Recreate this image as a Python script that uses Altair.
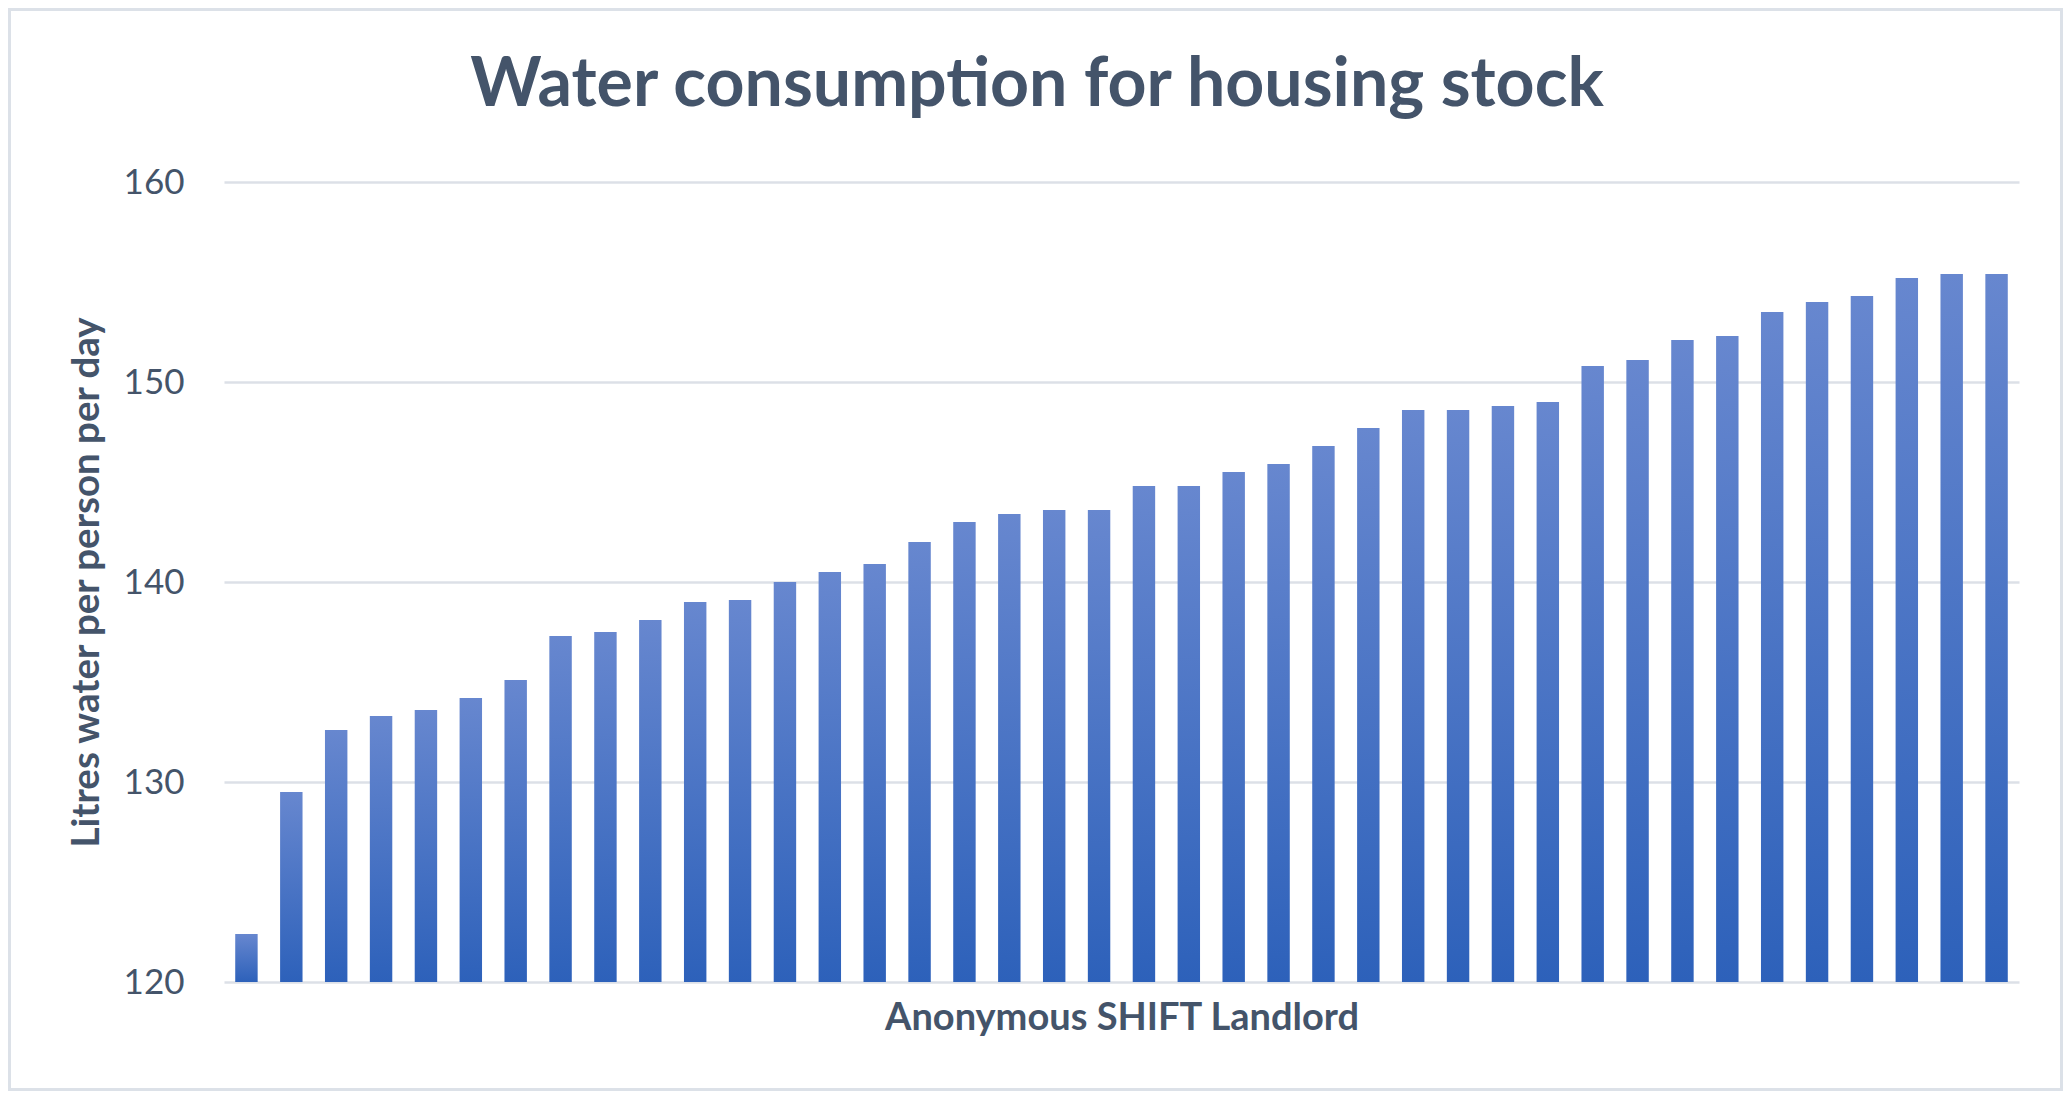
import altair as alt
import pandas as pd

landlords = [f"L{i}" for i in range(1, 41)]
litres = [122.4, 129.5, 132.6, 133.3, 133.6, 134.2, 135.1, 137.3, 137.5, 138.1,
          139.0, 139.1, 140.0, 140.5, 140.9, 142.0, 143.0, 143.4, 143.6, 143.6,
          144.8, 144.8, 145.5, 145.9, 146.8, 147.7, 148.6, 148.6, 148.8, 149.0,
          150.8, 151.1, 152.1, 152.3, 153.5, 154.0, 154.3, 155.2, 155.4, 155.4]
y_ticks = [120, 130, 140, 150, 160]

title_text = "Water consumption for housing stock"
x_title = "Anonymous SHIFT Landlord"
y_title = "Litres water per person per day"

TEXT = "#44546A"
FONT = "Lato"

df = pd.DataFrame({"landlord": landlords, "litres": litres, "base": [y_ticks[0]] * len(litres)})

gradient = alt.Gradient(
    gradient="linear",
    stops=[alt.GradientStop(color="#6787CF", offset=0),
           alt.GradientStop(color="#2D61BA", offset=1)],
    x1=0, x2=0, y1=0, y2=1,
)

W, H = 1795, 800

bars = alt.Chart(df).mark_bar(color=gradient).encode(
    x=alt.X("landlord:N", sort=None,
            scale=alt.Scale(paddingInner=0.5, paddingOuter=0.25),
            axis=alt.Axis(labels=False, ticks=False, domain=False, grid=False,
                          title=x_title, titleFont=FONT, titleFontSize=38,
                          titleFontWeight="bold", titleColor=TEXT,
                          titleY=47, titleBaseline="alphabetic")),
    y=alt.Y("litres:Q",
            scale=alt.Scale(domain=[120, 160], zero=False, nice=False),
            axis=alt.Axis(values=y_ticks, ticks=False, tickSize=0, domain=False,
                          labelFont=FONT, labelFontSize=35, labelColor=TEXT,
                          labelPadding=40, gridColor="#DCE0E7", gridWidth=2.5,
                          title=y_title, titleFont=FONT, titleFontSize=38.5,
                          titleFontWeight="bold", titleColor=TEXT,
                          titleAngle=270, titleX=-126, titleY=H / 2,
                          titleBaseline="alphabetic", titleAlign="center")),
    y2="base:Q",
)

frame = alt.Chart(pd.DataFrame({"k": [0]})).mark_rect(
    filled=False, stroke="#DCE1E8", strokeWidth=3
).encode(
    x=alt.value(-214.5), x2=alt.value(W + 42.5),
    y=alt.value(-172.5), y2=alt.value(H + 107.5),
)

title = alt.Chart(pd.DataFrame({"t": [title_text]})).mark_text(
    font=FONT, fontSize=68, fontWeight="bold", color=TEXT,
    align="center", baseline="alphabetic"
).encode(
    text="t:N", x=alt.value(813), y=alt.value(-76),
)

chart = alt.layer(frame, bars, title).properties(
    width=W, height=H,
    autosize=alt.AutoSizeParams(type="none"),
    padding={"left": 216, "top": 174, "right": 44, "bottom": 109},
    background="white",
).configure_view(stroke=None)

chart.save("out.html", embed_options={"renderer": "svg", "actions": False})
